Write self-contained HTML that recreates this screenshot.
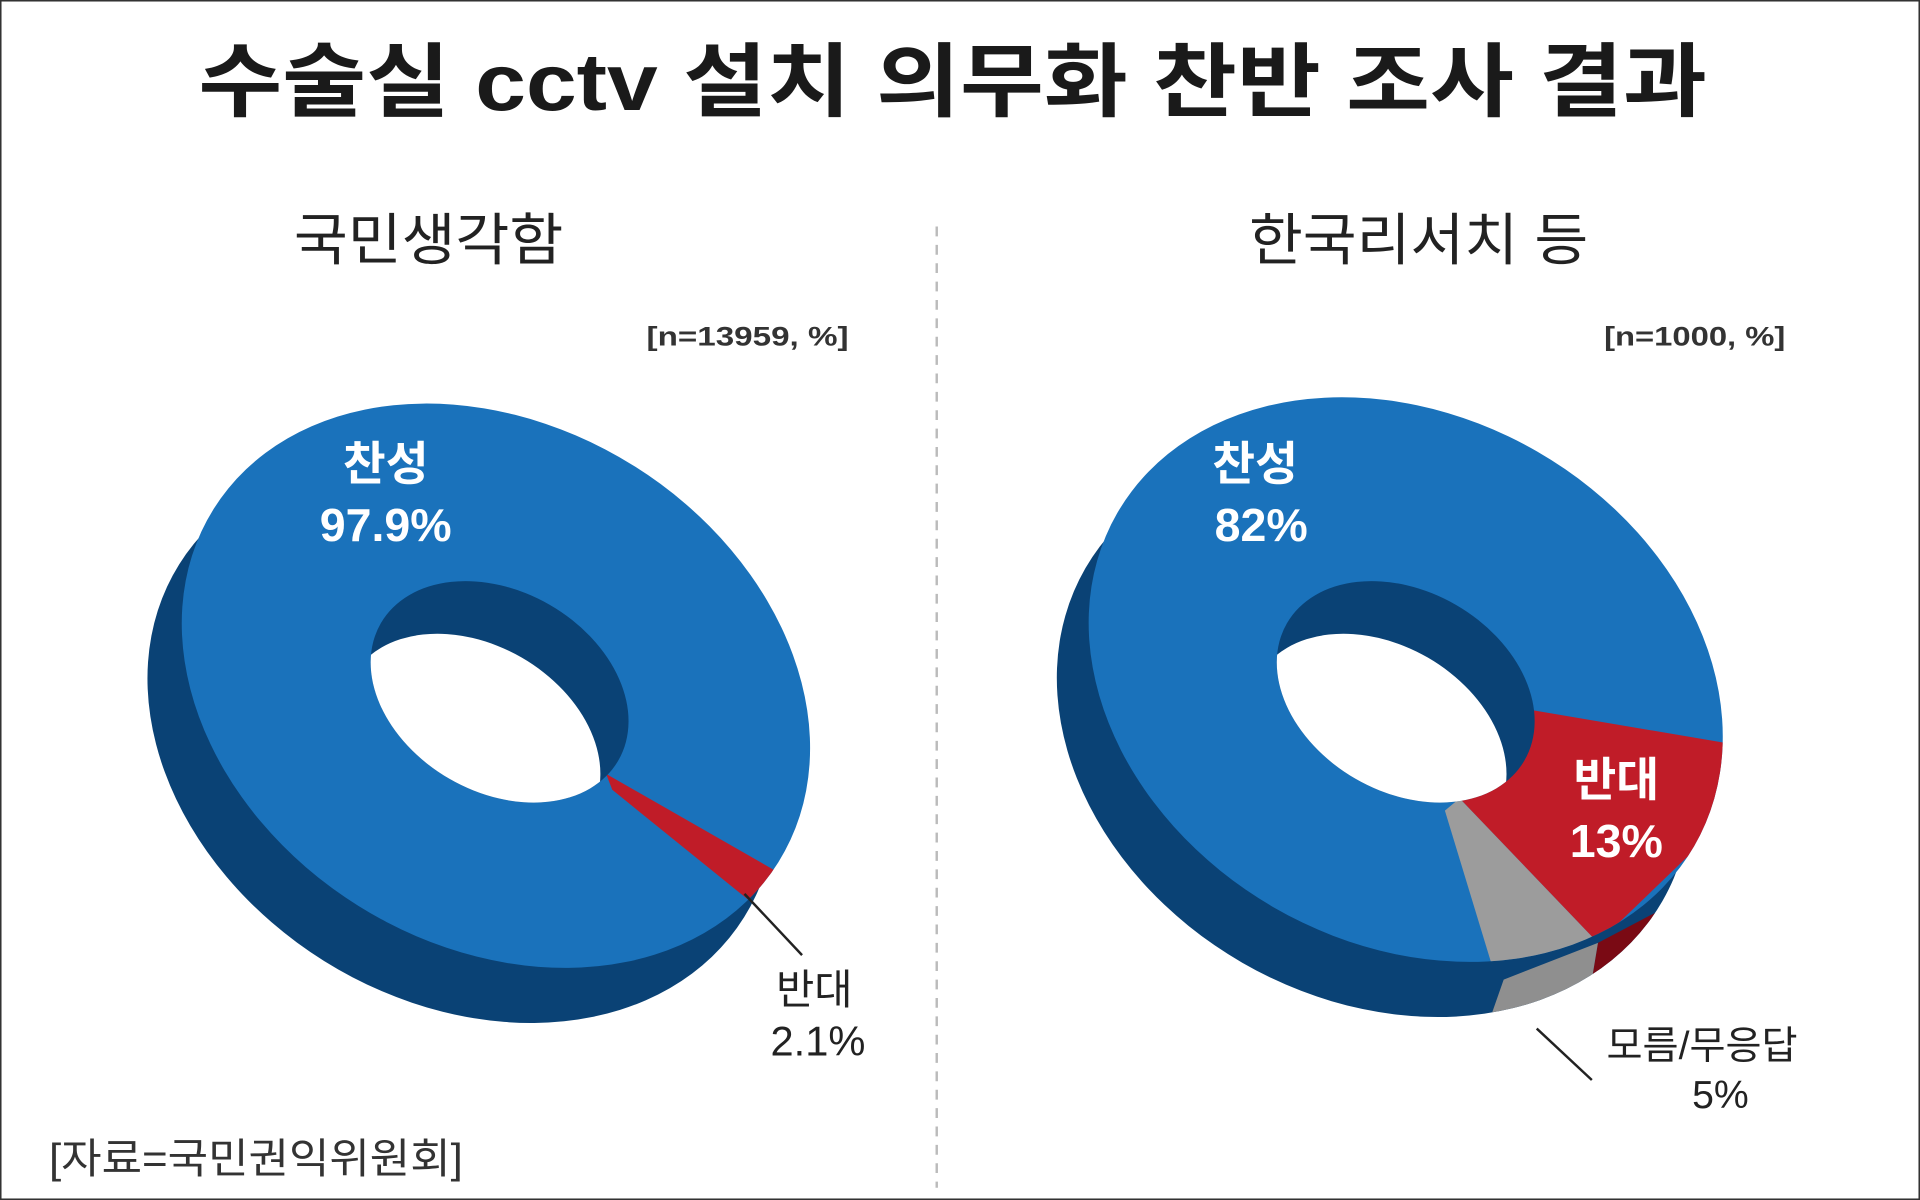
<!DOCTYPE html>
<html><head><meta charset="utf-8">
<style>
html,body{margin:0;padding:0;background:#fff;}
svg{display:block;}
text{font-family:"Liberation Sans","Noto Sans CJK KR",sans-serif;}
</style></head>
<body>
<svg width="1920" height="1200" viewBox="0 0 1568 980" xmlns="http://www.w3.org/2000/svg">
<defs>
  <clipPath id="topL"><ellipse cx="405" cy="560" rx="272" ry="212" transform="rotate(32 405 560)"/></clipPath>
  <clipPath id="botL"><ellipse cx="377" cy="605" rx="272" ry="212" transform="rotate(32 377 605)"/></clipPath>
  <clipPath id="holeL"><ellipse cx="408" cy="565" rx="112" ry="82" transform="rotate(30 408 565)"/></clipPath>
  <clipPath id="topR"><ellipse cx="1148" cy="555" rx="272" ry="215" transform="rotate(30 1148 555)"/></clipPath>
  <clipPath id="botR"><ellipse cx="1122" cy="600" rx="272" ry="215" transform="rotate(30 1122 600)"/></clipPath>
  <clipPath id="holeR"><ellipse cx="1148" cy="565" rx="112" ry="82" transform="rotate(30 1148 565)"/></clipPath>
</defs>
<rect x="0.5" y="0.5" width="1567" height="979" fill="#fff" stroke="#333" stroke-width="1.5"/>

<text x="162" y="90" font-size="66" font-weight="bold" fill="#1a1a1a" textLength="1232" lengthAdjust="spacingAndGlyphs">수술실 cctv 설치 의무화 찬반 조사 결과</text>
<text x="240" y="212" font-size="46" fill="#222" textLength="220" lengthAdjust="spacingAndGlyphs">국민생각함</text>
<text x="1020" y="212" font-size="46" fill="#222" textLength="277" lengthAdjust="spacingAndGlyphs">한국리서치 등</text>
<line x1="765" y1="185" x2="765" y2="970" stroke="#bbb" stroke-width="2" stroke-dasharray="8,7"/>
<text x="528" y="282" font-size="22" font-weight="bold" fill="#333" textLength="165" lengthAdjust="spacingAndGlyphs">[n=13959, %]</text>
<text x="1310" y="282" font-size="22" font-weight="bold" fill="#333" textLength="148" lengthAdjust="spacingAndGlyphs">[n=1000, %]</text>

<!-- LEFT DONUT -->
<ellipse cx="377" cy="605" rx="272" ry="212" transform="rotate(32 377 605)" fill="#0a4275"/>
<g clip-path="url(#botL)">
  <polygon points="620,742 640,715 615,760 580,810 570,800" fill="#7a0a14"/>
</g>
<g clip-path="url(#topL)">
  <rect x="100" y="300" width="600" height="520" fill="#1a72bb"/>
  <polygon points="495,632 500,645 620,742 640,715" fill="#c01c28"/>
</g>
<ellipse cx="408" cy="565" rx="112" ry="82" transform="rotate(30 408 565)" fill="#0a4275"/>
<g clip-path="url(#holeL)">
  <ellipse cx="385" cy="608" rx="112" ry="82" transform="rotate(30 385 608)" fill="#fff"/>
</g>
<line x1="608" y1="730" x2="655" y2="780" stroke="#222" stroke-width="2"/>
<text x="315" y="392" font-size="38" font-weight="bold" fill="#fff" text-anchor="middle">찬성</text>
<text x="315" y="442" font-size="38" font-weight="bold" fill="#fff" text-anchor="middle">97.9%</text>
<text x="665" y="820" font-size="34" fill="#222" text-anchor="middle">반대</text>
<text x="668" y="862" font-size="34" fill="#222" text-anchor="middle">2.1%</text>

<!-- RIGHT DONUT -->
<ellipse cx="1122" cy="600" rx="272" ry="215" transform="rotate(30 1122 600)" fill="#0a4275"/>
<g clip-path="url(#botR)">
  <polygon points="1305,770 1400,720 1380,800 1290,860" fill="#7a0a14"/>
  <polygon points="1228,800 1305,770 1290,860 1200,880" fill="#8f8f8f"/>
</g>
<g clip-path="url(#topR)">
  <rect x="860" y="300" width="600" height="540" fill="#1a72bb"/>
  <polygon points="1240,578 1192,652 1305,770 1440,640 1440,612" fill="#c01c28"/>
  <polygon points="1192,652 1180,662 1225,810 1305,770" fill="#9c9c9c"/>
</g>
<ellipse cx="1148" cy="565" rx="112" ry="82" transform="rotate(30 1148 565)" fill="#0a4275"/>
<g clip-path="url(#holeR)">
  <ellipse cx="1125" cy="608" rx="112" ry="82" transform="rotate(30 1125 608)" fill="#fff"/>
</g>
<line x1="1255" y1="840" x2="1300" y2="882" stroke="#222" stroke-width="2"/>
<text x="1025" y="392" font-size="38" font-weight="bold" fill="#fff" text-anchor="middle">찬성</text>
<text x="1030" y="442" font-size="38" font-weight="bold" fill="#fff" text-anchor="middle">82%</text>
<text x="1320" y="650" font-size="38" font-weight="bold" fill="#fff" text-anchor="middle">반대</text>
<text x="1320" y="700" font-size="38" font-weight="bold" fill="#fff" text-anchor="middle">13%</text>
<text x="1390" y="865" font-size="32" fill="#222" text-anchor="middle">모름/무응답</text>
<text x="1405" y="905" font-size="32" fill="#222" text-anchor="middle">5%</text>

<text x="40" y="958" font-size="34" fill="#333" textLength="338" lengthAdjust="spacingAndGlyphs">[자료=국민권익위원회]</text>
</svg>
</body></html>
